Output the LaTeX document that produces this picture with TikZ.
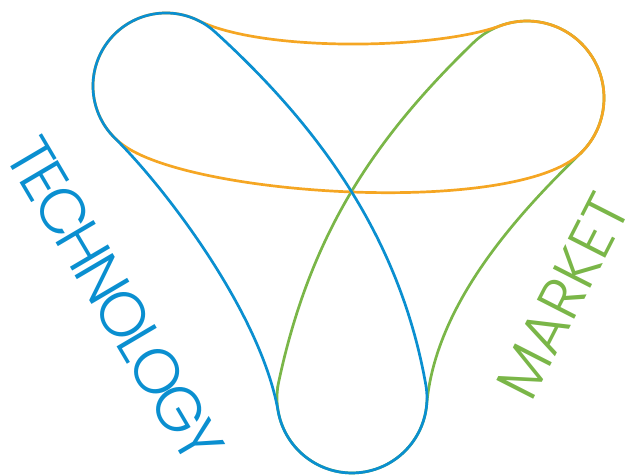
\documentclass[tikz,border=0pt]{standalone}
\usepackage{fontspec}
\setmainfont{Poppins}[UprightFont=* Light]
\definecolor{techBlue}{HTML}{0A8FD0}
\definecolor{marketGreen}{HTML}{7AB648}
\definecolor{linkOrange}{HTML}{F5A623}

\begin{document}
\begin{tikzpicture}[x=1pt, y=-1pt, line width=2.7pt]
  \useasboundingbox (0,0) rectangle (629,476);

  % Market loop (top right to bottom)
  \draw[marketGreen] (278.6,382.4) .. controls (309.8,235.7) and (372.8,139.9) .. (473.5,42.6)
    arc[start angle=226, end angle=406, radius=77]
    .. controls (515.8,216) and (435.4,304.9) .. (426.7,404.5)
    arc[start angle=5, end angle=192, radius=75] -- cycle;

  % Link loop (top left to top right)
  \draw[linkOrange] (125.2,146.5) .. controls (199.6,196.8) and (515,215.6) .. (580.5,153.4)
    arc[start angle=46, end angle=-110, radius=77]
    .. controls (434,50) and (262,52) .. (198.7,20.7)
    arc[start angle=296.6, end angle=124, radius=73] -- cycle;

  % Technology loop (top left to bottom)
  \draw[techBlue] (114.8,138.1) .. controls (164.7,187.2) and (260.7,312.5) .. (278.1,411)
    arc[start angle=170, end angle=-10, radius=75]
    .. controls (399.8,237.3) and (318.5,126.2) .. (215.1,32)
    arc[start angle=312.3, end angle=134.5, radius=73] -- cycle;

  % Labels
  \node[font=\fontsize{63}{63}\selectfont\addfontfeature{LetterSpace=-8}, text=techBlue, rotate=-59.5] (technology) at (115,300) {TECHNOLOGY};
  \node[font=\fontsize{60}{60}\selectfont, text=marketGreen, rotate=63] (market) at (563,296) {MARKET};
\end{tikzpicture}
\end{document}
